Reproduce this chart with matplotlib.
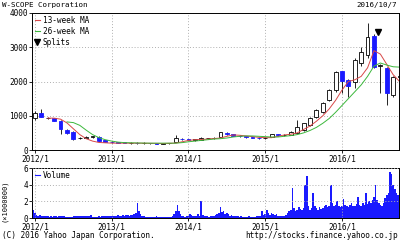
import matplotlib
matplotlib.use("Agg")
import matplotlib.pyplot as plt
from matplotlib.lines import Line2D
import numpy as np

plt.rcParams['font.family'] = ['DejaVu Sans Mono', 'DejaVu Sans']

# ---- data ----
months = ["2011-12",
          "2012-01","2012-02","2012-03","2012-04","2012-05","2012-06","2012-07","2012-08","2012-09","2012-10","2012-11","2012-12",
          "2013-01","2013-02","2013-03","2013-04","2013-05","2013-06","2013-07","2013-08","2013-09","2013-10","2013-11","2013-12",
          "2014-01","2014-02","2014-03","2014-04","2014-05","2014-06","2014-07","2014-08","2014-09","2014-10","2014-11","2014-12",
          "2015-01","2015-02","2015-03","2015-04","2015-05","2015-06","2015-07","2015-08","2015-09","2015-10","2015-11","2015-12",
          "2016-01","2016-02","2016-03","2016-04","2016-05","2016-06","2016-07","2016-08","2016-09","2016-10"]
opens  = [1200, 930,1080, 930, 920, 860, 580, 530, 340, 360, 390, 380, 290,
          230, 220, 220, 200, 210, 190, 200, 190, 180, 190, 230, 330,
          310, 300, 300, 340, 350, 380, 500, 460, 420, 410, 370, 360,
          350, 390, 470, 440, 450, 500, 580, 740, 960,1110,1450,1750,
          2300,2040,1990,2540,2770,3330,2450,2390,1600,2130]
highs  = [1250,1150,1200, 950, 940, 880, 600, 560, 380, 400, 420, 400, 300,
          250, 240, 240, 230, 230, 220, 210, 200, 200, 210, 440, 350,
          330, 320, 370, 360, 370, 540, 520, 480, 440, 420, 380, 380,
          380, 480, 480, 470, 560, 880, 800, 950,1200,1400,1780,2300,
          2320,2080,2700,3000,3710,3400,2500,2420,2150,2200]
lows   = [ 800, 880, 950, 900, 840, 470, 480, 300, 320, 340, 360, 250, 220,
          200, 190, 200, 180, 180, 170, 180, 170, 170, 180, 220, 290,
          280, 270, 290, 310, 330, 370, 440, 400, 380, 360, 340, 330,
          330, 380, 420, 420, 440, 490, 560, 700, 940,1080,1420,1700,
          1660,1550,1800,2450,2700,2380,1660,1310,1550,2080]
closes = [ 850,1070, 960, 935, 860, 600, 500, 320, 350, 380, 400, 270, 240,
          220, 210, 200, 210, 190, 200, 190, 180, 190, 200, 350, 320,
          300, 300, 360, 340, 350, 520, 460, 420, 410, 370, 360, 350,
          360, 470, 440, 450, 540, 680, 780, 920,1170,1370,1750,2280,
          2010,1870,2630,2860,3300,2420,2480,1660,2130,2150]

ma13_months = ["2012-03","2012-04","2012-05","2012-06","2012-07","2012-08","2012-09","2012-10","2012-11","2012-12",
               "2013-01","2013-03","2013-05","2013-07","2013-09","2013-11","2013-12",
               "2014-01","2014-02","2014-03","2014-04","2014-05","2014-06","2014-07","2014-08","2014-09","2014-10","2014-11","2014-12",
               "2015-01","2015-02","2015-03","2015-04","2015-05","2015-06","2015-07","2015-08","2015-09","2015-10","2015-11","2015-12",
               "2016-01","2016-02","2016-03","2016-04","2016-05","2016-06","2016-07","2016-08","2016-09","2016-10"]
ma13 = [930, 930, 900, 790, 620, 450, 330, 260, 220, 210,
        200, 200, 200, 195, 190, 200, 240,
        280, 300, 305, 320, 335, 350, 400, 440, 430, 410, 390, 370,
        360, 360, 400, 440, 460, 500, 600, 700, 840, 1000, 1200, 1450,
        1750, 2000, 2050, 2150, 2400, 2900, 2800, 2500, 2200, 2000]

ma26_months = ["2012-06","2012-07","2012-08","2012-09","2012-10","2012-11","2012-12",
               "2013-01","2013-02","2013-03","2013-05","2013-07","2013-09","2013-11","2013-12",
               "2014-01","2014-02","2014-03","2014-04","2014-05","2014-06","2014-07","2014-08","2014-09","2014-10","2014-11","2014-12",
               "2015-01","2015-02","2015-03","2015-04","2015-05","2015-06","2015-07","2015-08","2015-09","2015-10","2015-11","2015-12",
               "2016-01","2016-02","2016-03","2016-04","2016-05","2016-06","2016-07","2016-08","2016-09","2016-10"]
ma26 = [820, 800, 720, 580, 450, 360, 300,
        260, 230, 215, 205, 200, 200, 200, 215,
        240, 260, 280, 300, 320, 330, 350, 380, 400, 410, 410, 400,
        390, 380, 380, 400, 420, 450, 500, 570, 660, 780, 920, 1100,
        1300, 1500, 1700, 1900, 2150, 2450, 2540, 2480, 2430, 2420]

split_date = 2016.47
split_value = 3450

volume = [[0, 0, 1.8, 1.0],
          [0.6, 0.4, 0.3, 0.35],[0.3, 0.25, 0.3, 0.2],[0.2, 0.15, 0.2, 0.15],[0.3, 0.2, 0.15, 0.2],
          [0.25, 0.3, 0.2, 0.15],[0.1, 0.15, 0.1, 0.1],[0.25, 0.2, 0.3, 0.25],[0.2, 0.3, 0.25, 0.2],
          [0.3, 0.2, 0.25, 0.35],[0.15, 0.1, 0.1, 0.15],[0.2, 0.15, 0.3, 0.2],[0.25, 0.2, 0.3, 0.25],
          [0.2, 0.25, 0.3, 0.2],[0.35, 0.25, 0.3, 0.4],[0.3, 0.35, 0.4, 0.3],[0.4, 0.35, 0.5, 0.6],
          [1.8, 0.8, 0.5, 0.3],[0.2, 0.15, 0.1, 0.15],[0.1, 0.1, 0.15, 0.1],[0.2, 0.15, 0.1, 0.1],
          [0.1, 0.15, 0.1, 0.1],[0.15, 0.1, 0.3, 0.5],[0.9, 1.6, 0.8, 0.5],[0.3, 0.2, 0.15, 0.2],
          [0.3, 0.5, 0.4, 0.3],[0.2, 0.3, 0.5, 0.3],[2.0, 0.4, 0.3, 0.2],[0.2, 0.15, 0.2, 0.25],
          [0.3, 0.4, 0.5, 0.6],[1.3, 0.7, 0.8, 0.5],[0.6, 0.5, 0.3, 0.4],[0.3, 0.2, 0.25, 0.2],
          [0.15, 0.2, 0.1, 0.15],[0.1, 0.15, 0.2, 0.1],[0.1, 0.15, 0.1, 0.2],[0.2, 0.3, 0.8, 0.4],
          [0.5, 1.0, 0.6, 0.4],[0.6, 0.5, 0.4, 0.5],[0.3, 0.2, 0.25, 0.3],[0.3, 0.4, 0.6, 0.9],
          [1.0, 3.6, 1.2, 0.9],[1.0, 1.3, 1.1, 1.0],[1.2, 4.0, 5.0, 1.5],[1.0, 1.2, 3.0, 1.4],
          [1.2, 1.0, 1.3, 1.1],[1.2, 1.4, 1.6, 1.3],[1.5, 4.0, 1.8, 1.4],[1.6, 2.0, 1.5, 1.3],
          [1.4, 2.3, 1.6, 1.5],[1.3, 1.6, 1.8, 1.4],[1.5, 1.7, 2.5, 1.6],[1.4, 1.8, 1.6, 3.0],
          [1.7, 2.0, 1.8, 2.2],[2.5, 4.0, 2.2, 1.8],[1.6, 1.5, 1.8, 2.4],[2.8, 3.0, 5.5, 5.3],
          [4.0, 3.5, 3.0, 2.8],[3.0]]

year_ticks = [2012, 2013, 2014, 2015, 2016]
year_labels = ["2012/1", "2013/1", "2014/1", "2015/1", "2016/1"]
price_ticks = [0, 1000, 2000, 3000, 4000]
vol_ticks = [0, 2, 4, 6]


def to_x(m):
    y, mo = m.split("-")
    return int(y) + (int(mo) - 1) / 12.0


x = np.array([to_x(m) for m in months])
o = np.array(opens, float); h = np.array(highs, float)
l = np.array(lows, float); c = np.array(closes, float)

BLUE = "#1a1aff"
FS = 5.6

fig = plt.figure(figsize=(4.0, 2.42), dpi=100)
ax = fig.add_axes([32/400, 1-150/242, 367/400, 137/242])
axv = fig.add_axes([32/400, 1-218/242, 367/400, 50/242])

xlim = (2011.961, 2011.961 + 367/76.75)

grid_kw = dict(color="#b0b0b0", linestyle=(0, (1, 2)), linewidth=0.7)
for a in (ax, axv):
    a.set_xlim(*xlim)
    a.set_xticks(year_ticks)
    a.set_xticklabels(year_labels)
    a.grid(True, **grid_kw)
    a.tick_params(labelsize=FS, length=2, width=0.6, pad=1)
    for s in a.spines.values():
        s.set_linewidth(0.7)

# candles
w = 0.05
up = c >= o
ax.vlines(x, l, h, color="black", linewidth=0.6, zorder=3)
body_b = np.minimum(o, c)
body_h = np.maximum(np.abs(c - o), 12)
ax.bar(x[up], body_h[up], bottom=body_b[up], width=w, facecolor="white",
       edgecolor="black", linewidth=0.6, zorder=4)
ax.bar(x[~up], body_h[~up], bottom=body_b[~up], width=w, facecolor=BLUE,
       edgecolor=BLUE, linewidth=0.6, zorder=4)

# moving averages
ax.plot([to_x(m) for m in ma13_months], ma13, color="#d84848", linewidth=0.7, zorder=5)
ax.plot([to_x(m) for m in ma26_months], ma26, color="#3cb83c", linewidth=0.7, zorder=5)
ax.plot([split_date], [split_value], marker="v", color="black", markersize=4, linestyle="none", zorder=6)

ax.set_ylim(0, 4000)
ax.set_yticks(price_ticks)

handles = [Line2D([], [], color="#d84848", linewidth=0.8),
           Line2D([], [], color="#3cb83c", linewidth=0.8),
           Line2D([], [], color="black", marker="v", markersize=4, linestyle="none")]
ax.legend(handles, ["13-week MA", "26-week MA", "Splits"], loc="upper left",
          frameon=False, fontsize=FS, handlelength=0.6, handletextpad=0.4,
          labelspacing=0.25, borderaxespad=0.1, borderpad=0.3)

# volume
vx, vy = [], []
for m, vals in zip(months, volume):
    for k, v in enumerate(vals):
        vx.append(to_x(m) + k / 48.0)
        vy.append(v)
axv.bar(vx, vy, width=1/48.0, color=BLUE, edgecolor="none", zorder=2)
axv.set_ylim(0, 6)
axv.set_yticks(vol_ticks)
axv.set_axisbelow(False)
axv.legend([Line2D([], [], color=BLUE, linewidth=0.8)], ["Volume"], loc="upper left",
           frameon=False, fontsize=FS, handlelength=0.6, handletextpad=0.4,
           borderaxespad=0.1, borderpad=0.3)

fig.text(4/400, 1-201/242, "(\u00d71000000)", rotation=90, fontsize=5.0, ha="center", va="center")
fig.text(2/400, 1-5/242, "W-SCOPE Corporation", fontsize=5.4, ha="left", va="center")
fig.text(397/400, 1-5/242, "2016/10/7", fontsize=5.4, ha="right", va="center")
fig.text(2/400, 1-236/242, "(C) 2016 Yahoo Japan Corporation.", fontsize=FS, ha="left", va="center")
fig.text(398/400, 1-236/242, "http://stocks.finance.yahoo.co.jp", fontsize=FS, ha="right", va="center")

fig.savefig("out.png", dpi=100, facecolor="white")
